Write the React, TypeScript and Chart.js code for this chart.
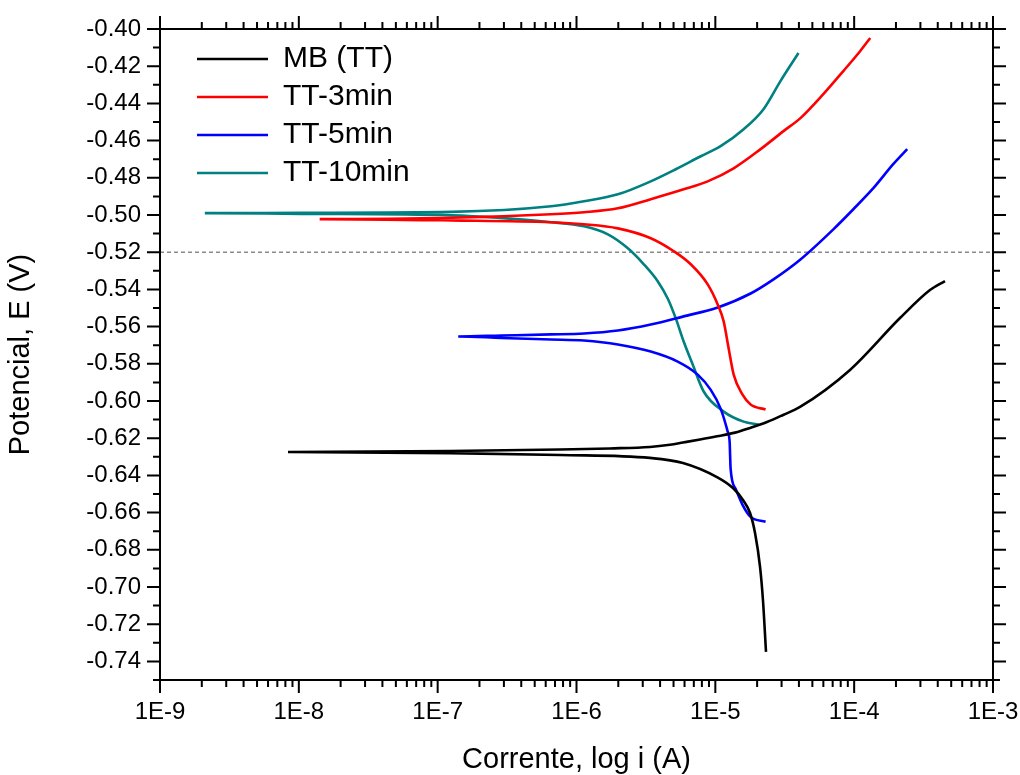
import { useEffect, useRef } from 'react';
import { Chart, registerables } from 'chart.js';

Chart.register(...registerables);

const seriesNames = ['MB (TT)', 'TT-3min', 'TT-5min', 'TT-10min'];
const seriesColors = ['#000000', '#FF0000', '#0000FF', '#008080'];

// log10(i / A) and E (V), from cathodic end through Ecorr to anodic end
const mbLogI = [-4.635, -4.657, -4.678, -4.714, -4.75, -4.801, -4.873, -4.988, -5.233, -5.471, -6.119, -6.911, -8.078,
  -6.911, -6.119, -5.759, -5.471, -5.327, -5.233, -5.11, -4.988, -4.858, -4.75, -4.628, -4.512, -4.39, -4.03, -3.67, -3.454, -3.346];
const mbE = [-0.7349, -0.707, -0.6892, -0.671, -0.6602, -0.6532, -0.6468, -0.6409, -0.6333, -0.6306, -0.629, -0.628, -0.6274,
  -0.6269, -0.6261, -0.6255, -0.6247, -0.6235, -0.6223, -0.6207, -0.619, -0.617, -0.6145, -0.6113, -0.6075, -0.6032, -0.5833, -0.5554, -0.5403, -0.5355];

const tt3LogI = [-4.638, -4.746, -4.804, -4.868, -4.904, -4.94, -4.983, -5.055, -5.177, -5.299, -5.465, -5.702, -5.946, -6.183, -6.902, -7.85,
  -6.902, -6.183, -5.946, -5.702, -5.465, -5.228, -5.055, -4.868, -4.674, -4.509, -4.387, -4.222, -4.078, -3.956, -3.884];
const tt3E = [-0.6046, -0.6019, -0.5966, -0.5858, -0.5718, -0.5572, -0.5481, -0.5373, -0.5265, -0.5195, -0.5125, -0.5072, -0.505, -0.5039, -0.5029, -0.5022,
  -0.5015, -0.4996, -0.4985, -0.4964, -0.4915, -0.4862, -0.4819, -0.4749, -0.4646, -0.4549, -0.4479, -0.435, -0.4226, -0.4118, -0.4048];

const tt5LogI = [-4.638, -4.746, -4.804, -4.854, -4.89, -4.897, -4.911, -4.962, -5.034, -5.127, -5.271, -5.465, -5.702, -5.946, -6.183, -6.543, -6.852,
  -6.543, -6.183, -5.946, -5.702, -5.465, -5.228, -4.983, -4.746, -4.581, -4.387, -4.15, -4.006, -3.862, -3.719, -3.618];
const tt5E = [-0.6649, -0.6623, -0.6558, -0.6472, -0.6364, -0.6219, -0.6165, -0.6041, -0.5939, -0.5858, -0.5788, -0.5734, -0.5696, -0.5675, -0.5669, -0.5661, -0.5653,
  -0.5648, -0.5642, -0.5637, -0.5621, -0.5589, -0.5545, -0.5497, -0.5422, -0.5346, -0.5239, -0.5077, -0.4969, -0.4856, -0.4727, -0.4646];

const tt10LogI = [-4.689, -4.796, -4.94, -5.084, -5.163, -5.228, -5.285, -5.343, -5.414, -5.515, -5.63, -5.774, -5.946, -6.183, -6.902, -7.98, -8.677,
  -7.98, -6.902, -6.183, -5.946, -5.702, -5.465, -5.285, -5.105, -4.962, -4.796, -4.653, -4.531, -4.401];
const tt10E = [-0.6127, -0.6111, -0.6057, -0.5949, -0.5804, -0.568, -0.5556, -0.5449, -0.5357, -0.5265, -0.5179, -0.5104, -0.5061, -0.5039, -0.5002, -0.4994, -0.499,
  -0.4988, -0.4983, -0.4953, -0.4926, -0.4889, -0.4819, -0.4754, -0.4684, -0.463, -0.4539, -0.4431, -0.428, -0.4129];

const seriesLogI = [mbLogI, tt3LogI, tt5LogI, tt10LogI];
const seriesE = [mbE, tt3E, tt5E, tt10E];

const xMin = 1e-9;
const xMax = 1e-3;
const xDecades = [-9, -8, -7, -6, -5, -4, -3];
const xMinorMultipliers = [2, 3, 4, 5, 6, 7, 8, 9];
const yMin = -0.75;
const yMax = -0.4;
const yMajorStep = 0.02;
const yMinorStep = 0.01;
const refLineE = -0.52;

const FONT = "'Liberation Sans', Arial, sans-serif";

const frameTicks = {
  id: 'frameTicks',
  afterDatasetsDraw(chart: any) {
    const { ctx, chartArea, scales } = chart;
    const { left, right, top, bottom } = chartArea;
    const xs = scales.x;
    const ys = scales.y;
    ctx.save();
    ctx.strokeStyle = '#000';
    ctx.lineWidth = 2;
    ctx.strokeRect(left, top, right - left, bottom - top);
    ctx.beginPath();
    const majorLen = 13;
    const minorLen = 7;
    xDecades.forEach((d) => {
      const base = Math.pow(10, d);
      const px = xs.getPixelForValue(base);
      ctx.moveTo(px, bottom); ctx.lineTo(px, bottom + majorLen);
      ctx.moveTo(px, top); ctx.lineTo(px, top - majorLen);
      if (base < xMax * 0.999) {
        xMinorMultipliers.forEach((m) => {
          const p = xs.getPixelForValue(m * base);
          ctx.moveTo(p, bottom); ctx.lineTo(p, bottom + minorLen);
          ctx.moveTo(p, top); ctx.lineTo(p, top - minorLen);
        });
      }
    });
    const nMinor = Math.round((yMax - yMin) / yMinorStep);
    for (let k = 0; k <= nMinor; k++) {
      const v = yMin + k * yMinorStep;
      const isMajor = Math.abs(Math.round(v / yMajorStep) * yMajorStep - v) < 1e-6;
      const len = isMajor ? majorLen : minorLen;
      const py = ys.getPixelForValue(v);
      ctx.moveTo(left, py); ctx.lineTo(left - len, py);
      ctx.moveTo(right, py); ctx.lineTo(right + len, py);
    }
    ctx.stroke();
    ctx.restore();
  },
};

const legendPlace = {
  id: 'legendPlace',
  afterLayout(chart: any) {
    const lg = chart.legend;
    if (lg) {
      const h = lg.bottom - lg.top;
      lg.left = chart.chartArea.left + 29;
      lg.top = chart.chartArea.top + 7;
      lg.bottom = lg.top + h;
    }
  },
};

export default function App() {
  const ref = useRef<HTMLCanvasElement | null>(null);

  useEffect(() => {
    if (!ref.current) return;
    const datasets: any[] = seriesNames.map((name, s) => ({
      label: name,
      data: seriesLogI[s].map((l, k) => ({ x: Math.pow(10, l), y: seriesE[s][k] })),
      borderColor: seriesColors[s],
      backgroundColor: seriesColors[s],
      borderWidth: 2.6,
      pointRadius: 0,
      cubicInterpolationMode: 'monotone',
      fill: false,
    }));
    datasets.push({
      label: 'ref',
      data: [{ x: xMin, y: refLineE }, { x: xMax, y: refLineE }],
      borderColor: '#8a8a8a',
      borderWidth: 1.5,
      borderDash: [4, 3],
      pointRadius: 0,
      fill: false,
    });

    const chart = new Chart(ref.current, {
      type: 'line',
      data: { datasets },
      plugins: [frameTicks, legendPlace],
      options: {
        animation: false,
        responsive: true,
        maintainAspectRatio: false,
        layout: { padding: { left: 0, right: 27, top: 29, bottom: 0 } },
        plugins: {
          tooltip: { enabled: false },
          legend: {
            position: 'chartArea',
            align: 'start',
            labels: {
              filter: (item: any) => item.datasetIndex < seriesNames.length,
              usePointStyle: true,
              pointStyle: 'line',
              pointStyleWidth: 71,
              boxWidth: 71,
              padding: 8,
              color: '#000',
              font: { family: FONT, size: 30 },
            },
          },
        },
        scales: {
          x: {
            type: 'logarithmic',
            min: xMin,
            max: xMax,
            grid: { display: false },
            border: { display: false },
            afterFit: (s: any) => { s.height = 95; s.paddingLeft = 0; s.paddingRight = 0; },
            ticks: {
              autoSkip: false,
              maxRotation: 0,
              padding: 10,
              color: '#000',
              font: { family: FONT, size: 24 },
              callback: (v: any) => {
                const e = Math.log10(Number(v));
                const r = Math.round(e);
                return Math.abs(e - r) < 1e-6 ? `1E${r}` : null;
              },
            },
            title: {
              display: true,
              text: 'Corrente, log i (A)',
              color: '#000',
              font: { family: FONT, size: 29, lineHeight: 1 },
              padding: { top: 0, bottom: 1 },
            },
          },
          y: {
            type: 'linear',
            min: yMin,
            max: yMax,
            grid: { display: false },
            border: { display: false },
            afterFit: (s: any) => { s.width = 160; s.paddingTop = 0; s.paddingBottom = 0; },
            ticks: {
              stepSize: yMajorStep,
              includeBounds: false,
              padding: 11,
              color: '#000',
              font: { family: FONT, size: 24 },
              callback: (v: any) => Number(v).toFixed(2),
            },
            title: {
              display: true,
              text: 'Potencial, E (V)',
              color: '#000',
              font: { family: FONT, size: 29, lineHeight: 1 },
              padding: { top: 6, bottom: 0 },
            },
          },
        },
      } as any,
    });
    return () => chart.destroy();
  }, []);

  return (
    <div style={{ position: 'fixed', left: 0, top: 0, width: 1020, height: 775, background: '#fff' }}>
      <canvas ref={ref} />
    </div>
  );
}
